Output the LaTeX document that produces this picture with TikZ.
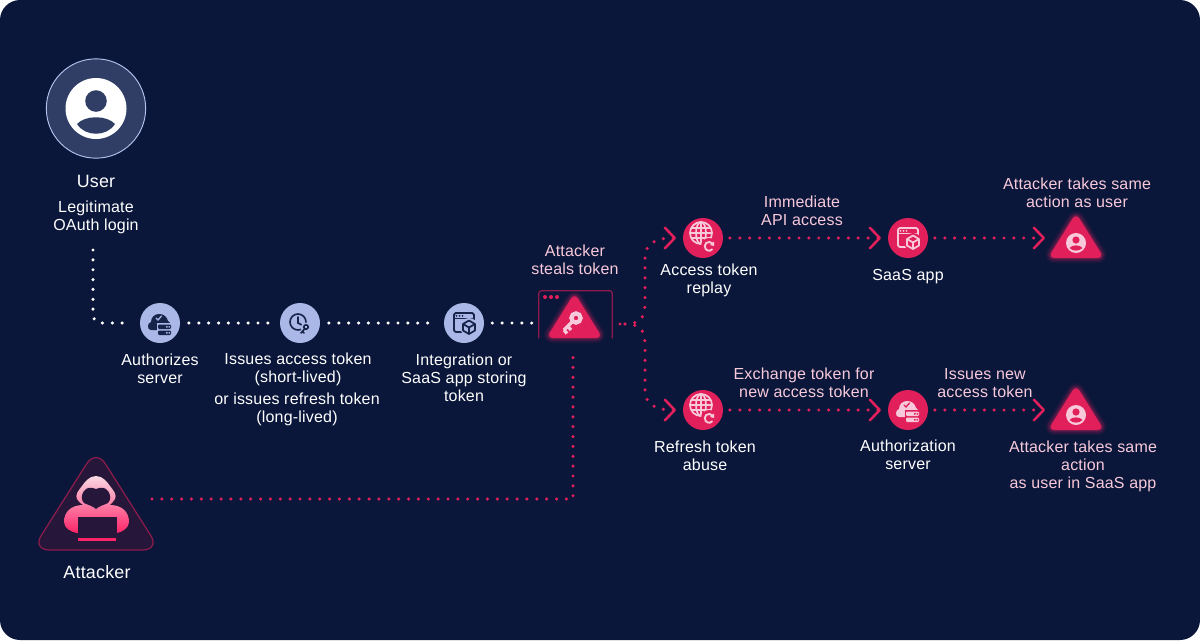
\documentclass[tikz,border=0pt]{standalone}
\usepackage{fontspec}
\setmainfont[LetterSpace=1.2]{Liberation Sans}
\usetikzlibrary{arrows.meta}
\definecolor{bgnavy}{HTML}{0A173A}
\definecolor{slateblue}{HTML}{303E66}
\definecolor{ringblue}{HTML}{B4C2EE}
\definecolor{softblue}{HTML}{A9B8E6}
\definecolor{crimson}{HTML}{E01F5B}
\definecolor{hotpink}{HTML}{FF2468}
\definecolor{dimcrimson}{HTML}{8E1B4C}
\definecolor{palepink}{HTML}{F8C9DA}
\definecolor{inkblue}{HTML}{16244A}
\definecolor{plumfill}{HTML}{26173A}
\tikzset{
  stepdot/.style={circle,minimum size=30pt,inner sep=0pt,fill=softblue},
  reddot/.style={circle,minimum size=30pt,inner sep=0pt,fill=crimson},
  whitetext/.style={text=white,align=center,font=\fontsize{12}{13.5}\selectfont},
  pinktext/.style={text=palepink,align=center,font=\fontsize{12}{13.5}\selectfont},
  bigtext/.style={text=white,align=center,font=\fontsize{13.4}{14}\selectfont},
  dotwhite/.style={draw=white,line width=2.6pt,line cap=round,dash pattern=on 0pt off 7.4pt},
  dotred/.style={draw=crimson,line width=2.6pt,line cap=round,dash pattern=on 0pt off 7.4pt},
  chevron/.style={-{Straight Barb[length=7.5pt,width=15.5pt,line width=1.9pt,round]},shorten >=5pt,shorten <=5pt},
}
% icons, drawn round the centre of their disc
\newcommand{\windowicon}[4]{\begin{scope}[shift={(#1,#2)},draw=#3,line width=1.3pt,line join=round]
  \draw[rounded corners=1.2pt] (-10,-10) rectangle (10,9);
  \draw (-10,-4.5) -- (10,-4.5);
  \foreach \k in {-7.5,-4.5,-1.5} \fill[#3] (\k,-7.2) circle (1);
  \fill[#4] (5,4) circle (9);
  \draw (5,-2.5) -- (11,1) -- (11,7.5) -- (5,11) -- (-1,7.5) -- (-1,1) -- cycle;
  \draw (-1,1) -- (5,4.5) -- (11,1) (5,4.5) -- (5,11);
\end{scope}}
\newcommand{\cloudicon}[4]{\begin{scope}[shift={(#1,#2)}]
  \fill[#3] (-9,7) .. controls (-13,7) and (-13,0) .. (-9,-1) .. controls (-9,-6) and (-5,-9) .. (-1,-9)
    .. controls (4,-9) and (7,-6) .. (8,-2) .. controls (10,-2) and (10,1) .. (10,2) -- (-1,7) -- cycle;
  \draw[#4,line width=1pt,line cap=round] (-4,-5) -- (-2,-3) -- (1.5,-7);
  \fill[#4] (-3.5,0) rectangle (12.5,13);
  \fill[#3,rounded corners=.8pt] (-2,1.5) rectangle (11,6);
  \fill[#3,rounded corners=.8pt] (-2,7.5) rectangle (11,12);
  \fill[#4] (6,3) rectangle (7.5,4.5) (8.5,3) rectangle (10,4.5) (6,9) rectangle (7.5,10.5) (8.5,9) rectangle (10,10.5);
\end{scope}}
\newcommand{\globeicon}[4]{\begin{scope}[shift={(#1,#2)},draw=#3,line width=1.3pt]
  \draw (-2,-5) circle (11);
  \draw (-2,-5) ellipse (5 and 11);
  \draw (-2,-16) -- (-2,6) (-13,-5) -- (9,-5) (-11.5,-10) -- (7.5,-10) (-11.5,0) -- (7.5,0);
  \fill[#4] (6,8) circle (8);
  \draw[line width=1.4pt] (9.5,5.5) arc (-40:-320:4.4);
  \fill[#3] (11,3.5) -- (11,8) -- (7,7) -- cycle;
\end{scope}}
\newcommand{\clockicon}[4]{\begin{scope}[shift={(#1,#2)},draw=#3,line width=1.2pt,line cap=round]
  \draw (-2,-1) circle (8);
  \draw (-2,-6) -- (-2,0) -- (2,2);
  \fill[#4] (6,5) circle (5.5);
  \draw (6,4) circle (2.2);
  \draw (4.5,6) -- (1,10) (2.5,8.5) -- (4,10);
\end{scope}}
\newcommand{\alerttri}[2]{\begin{scope}[shift={(#1,#2)}]
  \foreach \w/\o in {8/.05,6/.08,4/.12,2/.18}
    \draw[hotpink,opacity=\o,line width=\w pt,rounded corners=5pt,line join=round]
      (0,-25) -- (28,20) -- (-28,20) -- cycle;
  \fill[crimson,rounded corners=5pt] (0,-25) -- (28,20) -- (-28,20) -- cycle;
\end{scope}}
\newcommand{\usersign}[2]{\begin{scope}[shift={(#1,#2)}]
  \fill[palepink] (0,5) circle (10);
  \fill[crimson] (0,2) circle (3.6);
  \fill[crimson] (-6.5,10) .. controls (-4,6.5) and (4,6.5) .. (6.5,10) .. controls (3,13.5) and (-3,13.5) .. (-6.5,10) -- cycle;
\end{scope}}
\begin{document}
\begin{tikzpicture}[x=0.75pt,y=-0.75pt]
\useasboundingbox (0,0) rectangle (1200,640);
\fill[bgnavy,rounded corners=15pt] (0,0) rectangle (1200,640);

% user
\node[circle,minimum size=74.5pt,inner sep=0pt,fill=slateblue,draw=ringblue,line width=.7pt] (user) at (96,108.5) {};
\fill[white] (96,108.5) circle (30.5);
\fill[slateblue] (96,101) circle (10.8);
\fill[slateblue] (77,124) .. controls (85,115) and (107,115) .. (115,124) .. controls (107,137) and (85,137) .. (77,124) -- cycle;
\node[bigtext] (usertxt) at (96,181) {User};
\node[whitetext] (logintxt) at (96,217) {Legitimate\\OAuth login};

% token path
\node[stepdot] (authsrv) at (160,323) {};
\node[stepdot] (issue) at (300,323) {};
\node[stepdot] (store) at (464,323) {};
\cloudicon{160}{323}{inkblue}{softblue}
\clockicon{300}{323}{inkblue}{softblue}
\windowicon{464}{323}{inkblue}{softblue}
\node[whitetext] (authtxt) at (160,369) {Authorizes\\server};
\node[whitetext] (issuetxt) at (298,369.5) {Issues access token\\(short-lived)};
\node[whitetext] (longtxt) at (297,409.5) {or issues refresh token\\(long-lived)};
\node[whitetext] (storetxt) at (464,378) {Integration or\\SaaS app storing\\token};

% stolen token
\node[minimum width=54.75pt,minimum height=35.25pt,inner sep=0pt] (steal) at (575.5,314.5) {};
\draw[dimcrimson,line width=.9pt,rounded corners=2pt] (steal.south west) -- (steal.north west) -- (steal.north east) -- (steal.south east);
\foreach \k in {545,551,557} \fill[crimson] (\k,297) circle (2);
\alerttri{574.5}{318}
\draw[palepink,line width=3.2pt] (576,318) circle (4.6);
\draw[palepink,line width=2.5pt] (573,321) -- (564,330) (568,326.5) -- (571,330) (564,330) -- (567,333.5);
\node[pinktext] (stealtxt) at (575,260) {Attacker\\steals token};

% replay branch
\node[reddot] (replay) at (703,238) {};
\node[reddot] (saas) at (908,238) {};
\node[minimum width=36pt,minimum height=30pt,inner sep=0pt] (sameact) at (1076,238) {};
\globeicon{703}{238}{palepink}{crimson}
\windowicon{908}{238}{palepink}{crimson}
\alerttri{1076}{238}
\usersign{1076}{238}
\node[whitetext] (replaytxt) at (709,280) {Access token\\replay};
\node[pinktext] (apitxt) at (802,211) {Immediate\\API access};
\node[whitetext] (saastxt) at (908,276.5) {SaaS app};
\node[pinktext] (sametxt) at (1077,193) {Attacker takes same\\action as user};

% refresh branch
\node[reddot] (abuse) at (703,410) {};
\node[reddot] (authz) at (908,410) {};
\node[minimum width=36pt,minimum height=30pt,inner sep=0pt] (saasact) at (1076,410) {};
\globeicon{703}{410}{palepink}{crimson}
\cloudicon{908}{410}{palepink}{crimson}
\alerttri{1076}{410}
\usersign{1076}{410}
\node[whitetext] (abusetxt) at (705,456) {Refresh token\\abuse};
\node[pinktext] (exchtxt) at (804,383) {Exchange token for\\new access token};
\node[pinktext] (newtxt) at (985,383) {Issues new\\access token};
\node[whitetext] (authztxt) at (908,455) {Authorization\\server};
\node[pinktext] (saasacttxt) at (1083,466.5) {Attacker takes same\\action\\as user in SaaS app};

% attacker
\node[minimum width=85pt,minimum height=70pt,inner sep=0pt] (attacker) at (96,503) {};
\draw[fill=plumfill,draw=dimcrimson,line width=.9pt,rounded corners=13pt] (96,449) -- (160,550) -- (32,550) -- cycle;
\shade[top color=palepink!70!white,middle color=hotpink!60!palepink,bottom color=hotpink] (96,476) .. controls (103,476) and (107,482) .. (110,486)
  .. controls (114,491) and (117,495) .. (115,499) .. controls (114,502) and (111,503) .. (110,505)
  .. controls (122,505) and (129,512) .. (129,522) .. controls (129,528) and (122,532) .. (117,533)
  -- (77,533) .. controls (71,532) and (64,528) .. (64,522) .. controls (64,512) and (71,505) .. (83,505)
  .. controls (81,503) and (78,502) .. (77,499) .. controls (75,495) and (78,491) .. (82,486) .. controls (85,482) and (89,476) .. (96,476) -- cycle;
\fill[plumfill] (96,489) .. controls (91,487) and (87,487) .. (84,491) .. controls (81,495) and (81,500) .. (84,503)
  .. controls (88,505) and (93,506) .. (96,509) .. controls (99,506) and (104,505) .. (108,503)
  .. controls (111,500) and (111,495) .. (108,491) .. controls (105,487) and (101,487) .. (96,489) -- cycle;
\fill[plumfill] (78,517) rectangle (117,534);
\fill[hotpink] (78,538) rectangle (116,540.5);
\node[bigtext] (attackertxt) at (97,572) {Attacker};

% connectors
\coordinate (loginend) at (93,250);
\coordinate (attackout) at (152,499);
\coordinate (stealin) at (573,355);
\coordinate (stealout) at (620,324);
\coordinate (branch) at (625,324);
\draw[dotwhite,rounded corners=6pt,shorten >=11pt] (loginend) |- (authsrv.west);
\draw[dotwhite,shorten <=6.5pt,shorten >=6.5pt] (authsrv) -- (issue);
\draw[dotwhite,shorten <=6.5pt,shorten >=6.5pt] (issue) -- (store);
\draw[dotwhite,shorten <=6pt] (store.east) -- (steal.west |- store.east);
\draw[dotred] (attackout) -| (stealin);
\draw[dotred] (stealout) -- (branch);
\draw[dotred,chevron,shorten <=0pt] (branch) .. controls (640,324) and (645,318) .. (645,304) -- (645,258) .. controls (645,246) and (652,238) .. (replay.west);
\draw[dotred,chevron,shorten <=0pt] (branch) .. controls (640,324) and (645,330) .. (645,344) -- (645,390) .. controls (645,402) and (652,410) .. (abuse.west);
\draw[dotred,chevron] (replay) -- (saas);
\draw[dotred,chevron] (saas.east) -- (sameact.west);
\draw[dotred,chevron] (abuse) -- (authz);
\draw[dotred,chevron] (authz.east) -- (saasact.west);
\end{tikzpicture}
\end{document}
